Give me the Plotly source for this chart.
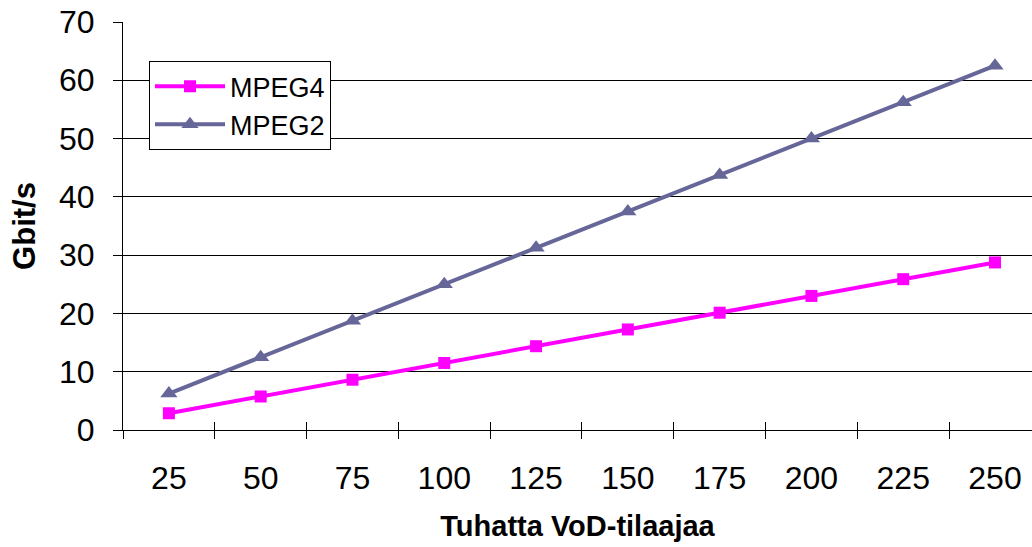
import plotly.graph_objects as go

categories = ["25", "50", "75", "100", "125", "150", "175", "200", "225", "250"]
mpeg4 = [2.875, 5.75, 8.625, 11.5, 14.375, 17.25, 20.125, 23.0, 25.875, 28.75]
mpeg2 = [6.25, 12.5, 18.75, 25.0, 31.25, 37.5, 43.75, 50.0, 56.25, 62.5]
y_ticks = [0, 10, 20, 30, 40, 50, 60, 70]

pos = list(range(1, len(categories) + 1))
bounds = [p - 0.5 for p in pos] + [pos[-1] + 0.5]
FONT = "Liberation Sans, Arial, sans-serif"

fig = go.Figure()
fig.add_trace(go.Scatter(x=pos, y=mpeg4, name="MPEG4", mode="lines+markers",
                         line=dict(color="#FF00FF", width=4),
                         marker=dict(symbol="square", size=12, color="#FF00FF")))
fig.add_trace(go.Scatter(x=pos, y=mpeg2, name="MPEG2", mode="lines+markers",
                         line=dict(color="#666699", width=4),
                         marker=dict(symbol="triangle-up", size=15, color="#666699")))

xr = [0.5, 10.403]
fig.update_layout(
    width=1032, height=547,
    margin=dict(l=123, r=0, t=22, b=117),
    plot_bgcolor="white", paper_bgcolor="white",
    font=dict(family=FONT, color="black"),
    xaxis=dict(range=xr, tickmode="array", tickvals=pos, ticktext=categories,
               ticks="", showgrid=False, zeroline=False,
               showline=True, linecolor="black", linewidth=1,
               tickfont=dict(size=32, family=FONT), ticklabelstandoff=20,
               minor=dict(tickmode="array", tickvals=bounds, ticks="outside",
                          ticklen=8, tickcolor="black", showgrid=False),
               title=dict(text="<b>Tuhatta VoD-tilaajaa</b>", font=dict(size=29, family=FONT),
                          standoff=20)),
    xaxis2=dict(range=xr, overlaying="x", anchor="y", side="bottom",
                tickmode="array", tickvals=bounds, ticks="inside", ticklen=8,
                tickcolor="black", showticklabels=False, showgrid=False,
                zeroline=False, showline=False),
    yaxis=dict(range=[0, 70], tickmode="array", tickvals=y_ticks,
               ticks="outside", ticklen=9, tickcolor="black",
               showgrid=True, gridcolor="black", gridwidth=1,
               zeroline=False, showline=True, linecolor="black", linewidth=1,
               tickfont=dict(size=32, family=FONT), ticklabelstandoff=12,
               title=dict(text="<b>Gbit/s</b>", font=dict(size=31, family=FONT),
                          standoff=14)),
    legend=dict(x=0.0286, y=0.904, xanchor="left", yanchor="top",
                bgcolor="white", bordercolor="black", borderwidth=1,
                font=dict(size=27, family=FONT), tracegroupgap=0,
                itemwidth=70),
    showlegend=True,
)
# invisible trace to activate xaxis2
fig.add_trace(go.Scatter(x=[pos[0]], y=[None], xaxis="x2", showlegend=False,
                         hoverinfo="skip", mode="markers"))

fig.write_html("out.html")
